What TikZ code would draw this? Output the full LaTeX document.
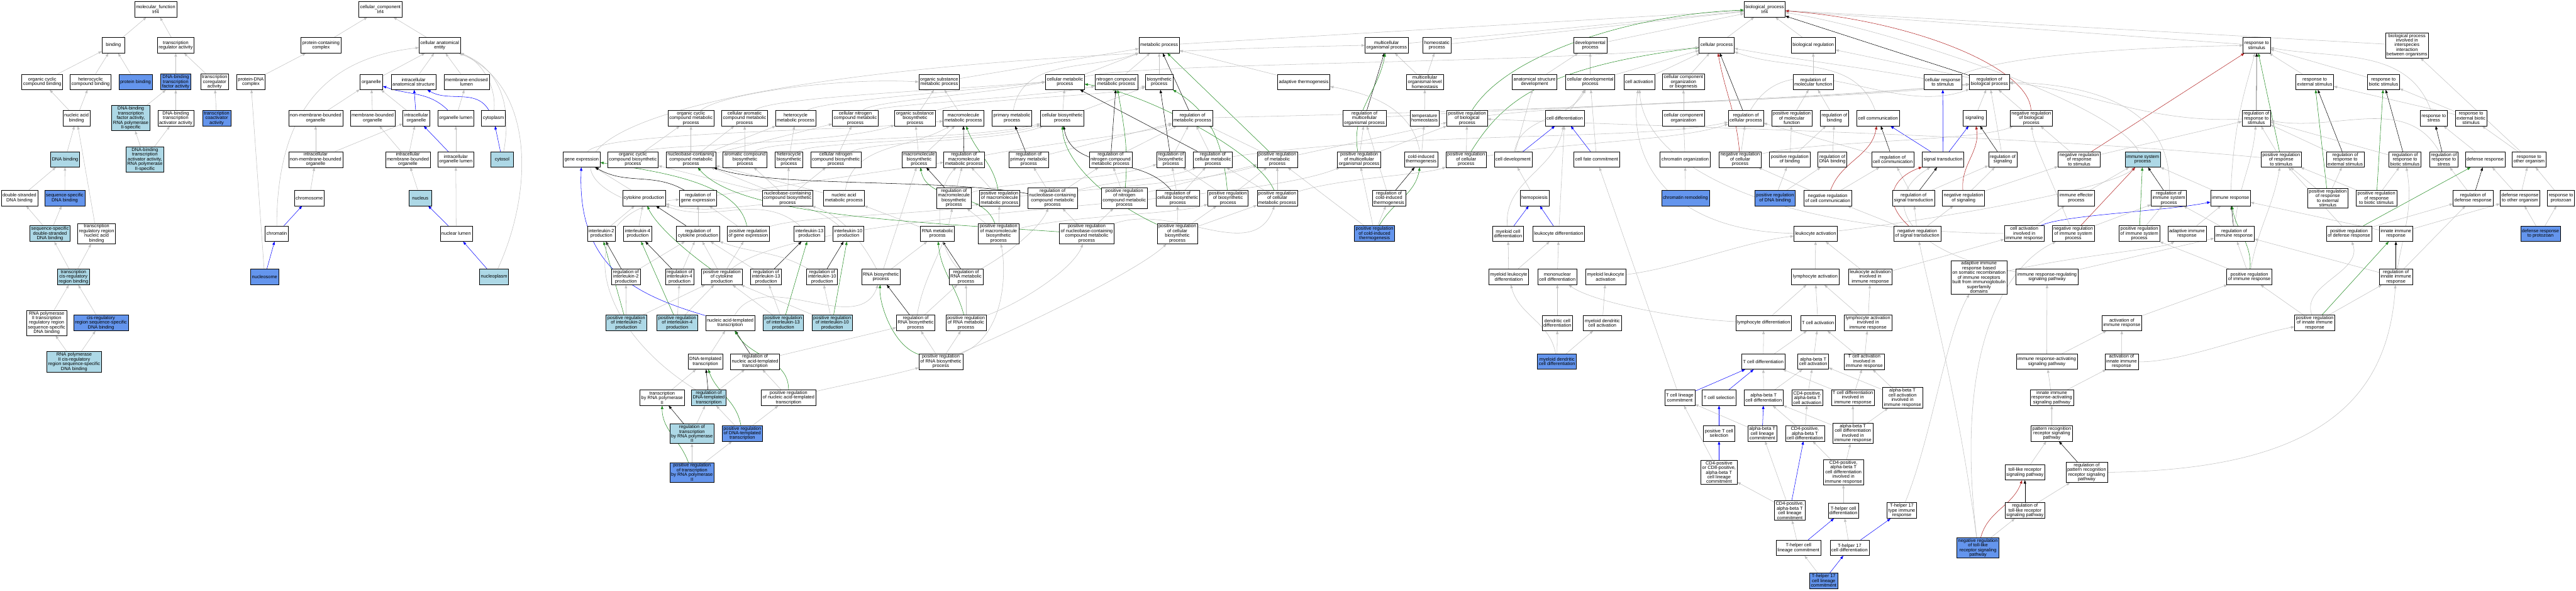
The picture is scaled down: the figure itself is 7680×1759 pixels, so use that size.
\documentclass[tikz,border=0pt]{standalone}
\usepackage{fontspec}
\setmainfont{Liberation Sans}
\usetikzlibrary{arrows.meta}
\pgfdeclarelayer{back}
\pgfdeclarelayer{bg}
\pgfsetlayers{back,bg,main}
\definecolor{lblue}{HTML}{ADD8E6}
\definecolor{cblue}{HTML}{6495ED}
\definecolor{egray}{HTML}{C0C0C0}
\definecolor{fgreen}{HTML}{228B22}
\definecolor{fbrick}{HTML}{B22222}
\newcommand\Ln[3][gr]{\draw[#1] (#2) -- (#3);}
\begin{document}
\begin{tikzpicture}[x=1bp,y=1bp,
 nd/.style={draw=black, line width=1.1bp, fill=white, align=center, font=\fontsize{14}{14}\selectfont, minimum width=68bp, minimum height=46bp, inner xsep=4bp, inner ysep=3bp},
 lb/.style={nd, fill=lblue},
 db/.style={nd, fill=cblue},
 gr/.style={draw=egray, line width=1.0bp, -{Triangle[length=10bp,width=7.5bp]}},
 bk/.style={gr, draw=black},
 bl/.style={gr, draw=blue},
 gn/.style={gr, draw=fgreen},
 rd/.style={gr, draw=fbrick}]
\begin{pgfonlayer}{back}
\fill[white] (0,0) rectangle (7680,-1759);
\end{pgfonlayer}
\useasboundingbox (0,0) rectangle (7680,-1759);
% ---------------- molecular function
\node[nd] (mf) at (464,-28) {molecular\_function\\Irf4};
\node[nd] (bind) at (338,-135) {binding};
\node[nd] (tra) at (524,-135) {transcription\\regulator activity};
\node[nd] (occb) at (126,-244) {organic cyclic\\compound binding};
\node[nd] (hcb) at (270,-244) {heterocyclic\\compound binding};
\node[db] (pb) at (404,-244) {protein binding};
\node[db] (dtfa) at (524,-244) {DNA-binding\\transcription\\factor activity};
\node[nd] (tcoreg) at (640,-244) {transcription\\coregulator\\activity};
\node[nd] (nab) at (228,-352) {nucleic acid\\binding};
\node[lb] (dtfa2) at (390,-352) {DNA-binding\\transcription\\factor activity,\\RNA polymerase\\II-specific};
\node[nd] (dtaa) at (524,-352) {DNA-binding\\transcription\\activator activity};
\node[db] (tcoact) at (646,-352) {transcription\\coactivator\\activity};
\node[lb] (dnab) at (194,-475) {DNA binding};
\node[lb] (dtaa2) at (432,-475) {DNA-binding\\transcription\\activator activity,\\RNA polymerase\\II-specific};
\node[nd] (dsdna) at (58,-590) {double-stranded\\DNA binding};
\node[db] (ssdna) at (193,-590) {sequence-specific\\DNA binding};
\node[lb] (ssds) at (149,-696) {sequence-specific\\double-stranded\\DNA binding};
\node[nd] (trrnab) at (288,-696) {transcription\\regulatory region\\nucleic acid\\binding};
\node[lb] (tcis) at (219,-825) {transcription\\cis-regulatory\\region binding};
\node[nd] (rp2tr) at (139,-962) {RNA polymerase\\II transcription\\regulatory region\\sequence-specific\\DNA binding};
\node[db] (cisr) at (301,-962) {cis-regulatory\\region sequence-specific\\DNA binding};
\node[lb] (rp2cis) at (221,-1078) {RNA polymerase\\II cis-regulatory\\region sequence-specific\\DNA binding};
% ---------------- cellular component
\node[nd] (cc) at (1134,-28) {cellular\_component\\Irf4};
\node[nd] (pcc) at (957,-135) {protein-containing\\complex};
\node[nd] (cae) at (1311,-135) {cellular anatomical\\entity};
\node[nd] (pdna) at (748,-244) {protein-DNA\\complex};
\node[nd] (org) at (1107,-244) {organelle};
\node[nd] (ias) at (1233,-244) {intracellular\\anatomical structure};
\node[nd] (mel) at (1391,-244) {membrane-enclosed\\lumen};
\node[nd] (nmbo) at (941,-352) {non-membrane-bounded\\organelle};
\node[nd] (mbo) at (1111,-352) {membrane-bounded\\organelle};
\node[nd] (io) at (1241,-352) {intracellular\\organelle};
\node[nd] (ol) at (1359,-352) {organelle lumen};
\node[nd] (cyto) at (1471,-352) {cytoplasm};
\node[nd] (inmbo) at (941,-475) {intracellular\\non-membrane-bounded\\organelle};
\node[nd] (imbo) at (1216,-475) {intracellular\\membrane-bounded\\organelle};
\node[nd] (iol) at (1359,-475) {intracellular\\organelle lumen};
\node[lb] (cytosol) at (1497,-475) {cytosol};
\node[nd] (chrom) at (922,-590) {chromosome};
\node[lb] (nuc) at (1253,-590) {nucleus};
\node[nd] (chromatin) at (825,-696) {chromatin};
\node[nd] (nlum) at (1360,-696) {nuclear lumen};
\node[db] (nucleosome) at (789,-825) {nucleosome};
\node[lb] (nucleoplasm) at (1473,-825) {nucleoplasm};
% ---------------- biological process
\node[nd] (bp) at (5261,-28) {biological\_process\\Irf4};
% row 135
\node[nd] (mp) at (3456,-135) {metabolic process};
\node[nd] (mop) at (4134,-135) {multicellular\\organismal process};
\node[nd] (hp) at (4284,-135) {homeostatic\\process};
\node[nd] (dp) at (4741,-135) {developmental\\process};
\node[nd] (cp) at (5118,-135) {cellular process};
\node[nd] (br) at (5406,-135) {biological regulation};
\node[nd] (rs) at (6728,-135) {response to\\stimulus};
\node[nd] (bpi) at (7176,-135) {biological process\\involved in\\interspecies\\interaction\\between organisms};
% row 244
\node[nd] (osmp) at (2800,-244) {organic substance\\metabolic process};
\node[nd] (cmp) at (3175,-244) {cellular metabolic\\process};
\node[nd] (ncmp) at (3328,-244) {nitrogen compound\\metabolic process};
\node[nd] (bsp) at (3456,-244) {biosynthetic\\process};
\node[nd] (at) at (3887,-244) {adaptive thermogenesis};
\node[nd] (mloh) at (4248,-244) {multicellular\\organismal-level\\homeostasis};
\node[nd] (asd) at (4575,-244) {anatomical structure\\development};
\node[nd] (cdp) at (4741,-244) {cellular developmental\\process};
\node[nd] (ca) at (4887,-244) {cell activation};
\node[nd] (ccob) at (5019,-244) {cellular component\\organization\\or biogenesis};
\node[nd] (rmf) at (5406,-244) {regulation of\\molecular function};
\node[nd] (crs) at (5792,-244) {cellular response\\to stimulus};
\node[nd] (rbp) at (5931,-244) {regulation of\\biological process};
\node[nd] (res) at (6901,-244) {response to\\external stimulus};
\node[nd] (rbs) at (7106,-244) {response to\\biotic stimulus};
% row 352
\node[nd] (occmp) at (2060,-352) {organic cyclic\\compound metabolic\\process};
\node[nd] (cacmp) at (2220,-352) {cellular aromatic\\compound metabolic\\process};
\node[nd] (hmp) at (2372,-352) {heterocycle\\metabolic process};
\node[nd] (cncmp) at (2550,-352) {cellular nitrogen\\compound metabolic\\process};
\node[nd] (osbp) at (2728,-352) {organic substance\\biosynthetic\\process};
\node[nd] (mmp) at (2872,-352) {macromolecule\\metabolic process};
\node[nd] (pmp) at (3017,-352) {primary metabolic\\process};
\node[nd] (cbp) at (3167,-352) {cellular biosynthetic\\process};
\node[nd] (rmp) at (3555,-352) {regulation of\\metabolic process};
\node[nd] (rmop) at (4068,-352) {regulation of\\multicellular\\organismal process};
\node[nd] (th) at (4247,-352) {temperature\\homeostasis};
\node[nd] (prbp) at (4374,-352) {positive regulation\\of biological\\process};
\node[nd] (cd) at (4665,-352) {cell differentiation};
\node[nd] (cco) at (5019,-352) {cellular component\\organization};
\node[nd] (rcp) at (5205,-352) {regulation of\\cellular process};
\node[nd] (prmf) at (5342,-352) {positive regulation\\of molecular\\function};
\node[nd] (rb) at (5469,-352) {regulation of\\binding};
\node[nd] (cc2) at (5599,-352) {cell communication};
\node[nd] (sig) at (5887,-352) {signaling};
\node[nd] (nrbp) at (6056,-352) {negative regulation\\of biological\\process};
\node[nd] (rrs) at (6727,-352) {regulation of\\response to\\stimulus};
\node[nd] (rst) at (7256,-352) {response to\\stress};
\node[nd] (rebs) at (7367,-352) {response to\\external biotic\\stimulus};
% row 475
\node[nd] (ge) at (1734,-475) {gene expression};
\node[nd] (occbp) at (1887,-475) {organic cyclic\\compound biosynthetic\\process};
\node[nd] (nccmp) at (2060,-475) {nucleobase-containing\\compound metabolic\\process};
\node[nd] (acbp) at (2221,-475) {aromatic compound\\biosynthetic\\process};
\node[nd] (hbp) at (2352,-475) {heterocycle\\biosynthetic\\process};
\node[nd] (cncbp) at (2492,-475) {cellular nitrogen\\compound biosynthetic\\process};
\node[nd] (mbp) at (2740,-475) {macromolecule\\biosynthetic\\process};
\node[nd] (rmmp) at (2874,-475) {regulation of\\macromolecule\\metabolic process};
\node[nd] (rpmp) at (3067,-475) {regulation of\\primary metabolic\\process};
\node[nd] (rncmp) at (3311,-475) {regulation of\\nitrogen compound\\metabolic process};
\node[nd] (rbsp) at (3491,-475) {regulation of\\biosynthetic\\process};
\node[nd] (rcmp) at (3616,-475) {regulation of\\cellular metabolic\\process};
\node[nd] (prmp) at (3808,-475) {positive regulation\\of metabolic\\process};
\node[nd] (prmop) at (4052,-475) {positive regulation\\of multicellular\\organismal process};
\node[nd] (cit) at (4237,-475) {cold-induced\\thermogenesis};
\node[nd] (prcp) at (4371,-475) {positive regulation\\of cellular\\process};
\node[nd] (cdev) at (4511,-475) {cell development};
\node[nd] (cfc) at (4760,-475) {cell fate commitment};
\node[nd] (co) at (5024,-475) {chromatin organization};
\node[nd] (nrcp) at (5188,-475) {negative regulation\\of cellular\\process};
\node[nd] (prb) at (5336,-475) {positive regulation\\of binding};
\node[nd] (rdb) at (5463,-475) {regulation of\\DNA binding};
\node[nd] (rcc) at (5643,-475) {regulation of\\cell communication};
\node[nd] (st) at (5793,-475) {signal transduction};
\node[nd] (rsig) at (5971,-475) {regulation of\\signaling};
\node[nd] (nrrs) at (6199,-475) {negative regulation\\of response\\to stimulus};
\node[lb] (isp) at (6388,-475) {immune system\\process};
\node[nd] (prrs) at (6801,-475) {positive regulation\\of response\\to stimulus};
\node[nd] (rres) at (6992,-475) {regulation of\\response to\\external stimulus};
\node[nd] (rrbs) at (7170,-475) {regulation of\\response to\\biotic stimulus};
\node[nd] (rrst) at (7286,-475) {regulation of\\response to\\stress};
\node[nd] (dr) at (7409,-475) {defense response};
\node[nd] (roo) at (7540,-475) {response to\\other organism};
% row 590
\node[nd] (cyp) at (1920,-590) {cytokine production};
\node[nd] (rge) at (2081,-590) {regulation of\\gene expression};
\node[nd] (nccbp) at (2348,-590) {nucleobase-containing\\compound biosynthetic\\process};
\node[nd] (namp) at (2516,-590) {nucleic acid\\metabolic process};
\node[nd] (rmbp) at (2844,-590) {regulation of\\macromolecule\\biosynthetic\\process};
\node[nd] (prmmp) at (2980,-590) {positive regulation\\of macromolecule\\metabolic process};
\node[nd] (rnccmp) at (3138,-590) {regulation of\\nucleobase-containing\\compound metabolic\\process};
\node[nd] (prncmp) at (3352,-590) {positive regulation\\of nitrogen\\compound metabolic\\process};
\node[nd] (rcbp) at (3511,-590) {regulation of\\cellular biosynthetic\\process};
\node[nd] (prbsp) at (3661,-590) {positive regulation\\of biosynthetic\\process};
\node[nd] (prcmp) at (3808,-590) {positive regulation\\of cellular\\metabolic process};
\node[nd] (rcit) at (4141,-590) {regulation of\\cold-induced\\thermogenesis};
\node[nd] (hemo) at (4575,-590) {hemopoiesis};
\node[db] (crem) at (5025,-590) {chromatin remodeling};
\node[db] (prdb) at (5292,-590) {positive regulation\\of DNA binding};
\node[nd] (nrcc) at (5449,-590) {negative regulation\\of cell communication};
\node[nd] (rst2) at (5705,-590) {regulation of\\signal transduction};
\node[nd] (nrsig) at (5854,-590) {negative regulation\\of signaling};
\node[nd] (iep) at (6190,-590) {immune effector\\process};
\node[nd] (risp) at (6466,-590) {regulation of\\immune system\\process};
\node[nd] (ir) at (6650,-590) {immune response};
\node[nd] (prres) at (6940,-590) {positive regulation\\of response\\to external\\stimulus};
\node[nd] (prrbs) at (7085,-590) {positive regulation\\of response\\to biotic stimulus};
\node[nd] (rdr) at (7373,-590) {regulation of\\defense response};
\node[nd] (droo) at (7513,-590) {defense response\\to other organism};
\node[nd] (rp) at (7635,-590) {response to\\protozoan};
% row 696
\node[nd] (il2) at (1793,-696) {interleukin-2\\production};
\node[nd] (il4) at (1901,-696) {interleukin-4\\production};
\node[nd] (rcyp) at (2081,-696) {regulation of\\cytokine production};
\node[nd] (prge) at (2231,-696) {positive regulation\\of gene expression};
\node[nd] (il13) at (2413,-696) {interleukin-13\\production};
\node[nd] (il10) at (2529,-696) {interleukin-10\\production};
\node[nd] (rnamp) at (2795,-696) {RNA metabolic\\process};
\node[nd] (prmbp) at (2977,-696) {positive regulation\\of macromolecule\\biosynthetic\\process};
\node[nd] (prnccmp) at (3240,-696) {positive regulation\\of nucleobase-containing\\compound metabolic\\process};
\node[nd] (prcbp) at (3510,-696) {positive regulation\\of cellular\\biosynthetic\\process};
\node[db] (prcit) at (4098,-696) {positive regulation\\of cold-induced\\thermogenesis};
\node[nd] (mcd) at (4496,-696) {myeloid cell\\differentiation};
\node[nd] (ld) at (4647,-696) {leukocyte differentiation};
\node[nd] (la) at (5413,-696) {leukocyte activation};
\node[nd] (nrst) at (5716,-696) {negative regulation\\of signal transduction};
\node[nd] (caiir) at (6035,-696) {cell activation\\involved in\\immune response};
\node[nd] (nrisp) at (6181,-696) {negative regulation\\of immune system\\process};
\node[nd] (prisp) at (6378,-696) {positive regulation\\of immune system\\process};
\node[nd] (air) at (6520,-696) {adaptive immune\\response};
\node[nd] (rir) at (6661,-696) {regulation of\\immune response};
\node[nd] (prdr) at (7003,-696) {positive regulation\\of defense response};
\node[nd] (iir) at (7143,-696) {innate immune\\response};
\node[db] (drp) at (7574,-696) {defense response\\to protozoan};
% row 825
\node[nd] (ril2) at (1866,-825) {regulation of\\interleukin-2\\production};
\node[nd] (ril4) at (2026,-825) {regulation of\\interleukin-4\\production};
\node[nd] (prcyp) at (2152,-825) {positive regulation\\of cytokine\\production};
\node[nd] (ril13) at (2284,-825) {regulation of\\interleukin-13\\production};
\node[nd] (ril10) at (2451,-825) {regulation of\\interleukin-10\\production};
\node[nd] (rnabp) at (2626,-825) {RNA biosynthetic\\process};
\node[nd] (rrnamp) at (2880,-825) {regulation of\\RNA metabolic\\process};
\node[nd] (mld) at (4498,-825) {myeloid leukocyte\\differentiation};
\node[nd] (mncd) at (4643,-825) {mononuclear\\cell differentiation};
\node[nd] (mla) at (4787,-825) {myeloid leukocyte\\activation};
\node[nd] (lya) at (5412,-825) {lymphocyte activation};
\node[nd] (laiir) at (5576,-825) {leukocyte activation\\involved in\\immune response};
\node[nd] (airsr) at (5900,-826) {adaptive immune\\response based\\on somatic recombination\\of immune receptors\\built from immunoglobulin\\superfamily\\domains};
\node[nd] (irrsp) at (6103,-825) {immune response-regulating\\signaling pathway};
\node[nd] (prir) at (6706,-825) {positive regulation\\of immune response};
\node[nd] (riir) at (7143,-825) {regulation of\\innate immune\\response};
% row 962
\node[lb] (pril2) at (1867,-962) {positive regulation\\of interleukin-2\\production};
\node[lb] (pril4) at (2019,-962) {positive regulation\\of interleukin-4\\production};
\node[nd] (natt) at (2177,-962) {nucleic acid-templated\\transcription};
\node[lb] (pril13) at (2335,-962) {positive regulation\\of interleukin-13\\production};
\node[lb] (pril10) at (2481,-962) {positive regulation\\of interleukin-10\\production};
\node[nd] (rrnabp) at (2730,-962) {regulation of\\RNA biosynthetic\\process};
\node[nd] (prrnamp) at (2880,-962) {positive regulation\\of RNA metabolic\\process};
\node[nd] (dcd) at (4643,-962) {dendritic cell\\differentiation};
\node[nd] (mdca) at (4777,-962) {myeloid dendritic\\cell activation};
\node[nd] (lyd) at (5258,-962) {lymphocyte differentiation};
\node[nd] (tca) at (5420,-962) {T cell activation};
\node[nd] (lyaiir) at (5569,-962) {lymphocyte activation\\involved in\\immune response};
\node[nd] (aoir) at (6326,-962) {activation of\\immune response};
\node[nd] (priir) at (6901,-962) {positive regulation\\of innate immune\\response};
% row 1077
\node[nd] (dtt) at (2103,-1077) {DNA-templated\\transcription};
\node[nd] (rnatt) at (2251,-1077) {regulation of\\nucleic acid-templated\\transcription};
\node[nd] (prrnabp) at (2805,-1077) {positive regulation\\of RNA biosynthetic\\process};
\node[db] (mdcd) at (4642,-1077) {myeloid dendritic\\cell differentiation};
\node[nd] (tcd) at (5257,-1077) {T cell differentiation};
\node[nd] (abtca) at (5406,-1077) {alpha-beta T\\cell activation};
\node[nd] (tcaiir) at (5558,-1077) {T cell activation\\involved in\\immune response};
\node[nd] (iraspa) at (6102,-1077) {immune response-activating\\signaling pathway};
\node[nd] (aoiir) at (6325,-1077) {activation of\\innate immune\\response};
% row 1185
\node[nd] (trp2) at (1974,-1185) {transcription\\by RNA polymerase\\II};
\node[lb] (rdtt) at (2113,-1185) {regulation of\\DNA-templated\\transcription};
\node[nd] (prnatt) at (2351,-1185) {positive regulation\\of nucleic acid-templated\\transcription};
\node[nd] (tclc) at (5008,-1185) {T cell lineage\\commitment};
\node[nd] (tcs) at (5125,-1185) {T cell selection};
\node[nd] (abtcd) at (5258,-1185) {alpha-beta T\\cell differentiation};
\node[nd] (cd4a) at (5388,-1185) {CD4-positive,\\alpha-beta T\\cell activation};
\node[nd] (tcdiir) at (5524,-1185) {T cell differentiation\\involved in\\immune response};
\node[nd] (abtcaiir) at (5672,-1185) {alpha-beta T\\cell activation\\involved in\\immune response};
\node[nd] (iirasp) at (6117,-1185) {innate immune\\response-activating\\signaling pathway};
% row 1291
\node[lb] (rtrp2) at (2063,-1292) {regulation of\\transcription\\by RNA polymerase\\II};
\node[db] (prdtt) at (2213,-1291) {positive regulation\\of DNA-templated\\transcription};
\node[nd] (ptcs) at (5125,-1291) {positive T cell\\selection};
\node[nd] (abtclc) at (5254,-1291) {alpha-beta T\\cell lineage\\commitment};
\node[nd] (cd4d) at (5381,-1291) {CD4-positive,\\alpha-beta T\\cell differentiation};
\node[nd] (abtcdiir) at (5524,-1291) {alpha-beta T\\cell differentiation\\involved in\\immune response};
\node[nd] (prrsp) at (6117,-1291) {pattern recognition\\receptor signaling\\pathway};
% row 1407
\node[db] (prtrp2) at (2063,-1407) {positive regulation\\of transcription\\by RNA polymerase\\II};
\node[nd] (cd48) at (5125,-1407) {CD4-positive\\or CD8-positive,\\alpha-beta T\\cell lineage\\commitment};
\node[nd] (cd4diir) at (5496,-1407) {CD4-positive,\\alpha-beta T\\cell differentiation\\involved in\\immune response};
\node[nd] (tlr) at (6037,-1407) {toll-like receptor\\signaling pathway};
\node[nd] (rprrsp) at (6221,-1407) {regulation of\\pattern recognition\\receptor signaling\\pathway};
% row 1521
\node[nd] (cd4lc) at (5336,-1521) {CD4-positive,\\alpha-beta T\\cell lineage\\commitment};
\node[nd] (thd) at (5496,-1521) {T-helper cell\\differentiation};
\node[nd] (th17ir) at (5670,-1521) {T-helper 17\\type immune\\response};
\node[nd] (rtlr) at (6037,-1521) {regulation of\\toll-like receptor\\signaling pathway};
% row 1632
\node[nd] (thlc) at (5362,-1632) {T-helper cell\\lineage commitment};
\node[nd] (th17d) at (5514,-1632) {T-helper 17\\cell differentiation};
\node[db] (nrtlr) at (5897,-1632) {negative regulation\\of toll-like\\receptor signaling\\pathway};
% row 1730
\node[db] (th17lc) at (5437,-1730) {T-helper 17\\cell lineage\\commitment};

\begin{pgfonlayer}{bg}
% ---- MF edges
\Ln{bind}{mf} \Ln{tra}{mf}
\Ln{occb}{bind} \Ln{hcb}{bind} \Ln{pb}{bind}
\Ln{dtfa}{tra} \Ln{tcoreg}{tra}
\Ln{nab}{occb} \Ln{nab}{hcb}
\Ln{dtfa2}{dtfa} \Ln{dtaa}{dtfa} \Ln{tcoact}{tcoreg}
\Ln{dtaa2}{dtfa2} \Ln{dtaa2}{dtaa}
\Ln{dnab}{nab} \Ln{trrnab}{nab}
\Ln{dsdna}{dnab} \Ln{ssdna}{dnab}
\Ln{ssds}{dsdna} \Ln{ssds}{ssdna}
\Ln{tcis}{ssds} \Ln{tcis}{trrnab}
\Ln{rp2tr}{tcis} \Ln{cisr}{tcis}
\Ln{rp2cis}{rp2tr} \Ln{rp2cis}{cisr}
% ---- CC edges
\Ln{pcc}{cc} \Ln{cae}{cc}
\Ln{pdna}{pcc}
\Ln{org}{cae} \Ln{ias}{cae} \Ln{mel}{cae}
\draw[gr] (chromatin) .. controls (826,-300) and (1000,-170) .. (cae);
\draw[gr] (cyto) .. controls (1480,-250) and (1430,-180) .. (cae);
\draw[gr] (cytosol) .. controls (1530,-300) and (1480,-200) .. (cae);
\draw[gr] (nucleoplasm) .. controls (1595,-560) and (1590,-250) .. (cae);
\Ln{nmbo}{org} \Ln{mbo}{org} \Ln{io}{org}
\Ln[bl]{io}{ias}
\draw[bl] (ol) to[out=135,in=-20] (org);
\draw[bl] (cyto) to[out=120,in=-30] (ias);
\Ln{ol}{mel} \Ln{iol}{ol} \Ln{nlum}{iol}
\Ln[bl]{nucleoplasm}{nlum} \Ln[bl]{cytosol}{cyto}
\Ln{inmbo}{nmbo} \Ln{inmbo}{io}
\Ln{imbo}{mbo} \Ln{imbo}{io}
\Ln[bl]{iol}{io}
\Ln{chrom}{inmbo} \Ln{nuc}{imbo}
\Ln[bl]{nlum}{nuc} \Ln[bl]{chromatin}{chrom} \Ln[bl]{nucleosome}{chromatin}
\Ln{nucleosome}{pdna}
% ---- BP top
\Ln{mp}{bp} \Ln{mop}{bp} \Ln{hp}{bp} \Ln{dp}{bp} \Ln{cp}{bp} \Ln{br}{bp} \Ln{rs}{bp} \Ln{bpi}{bp}
\draw[gn] (prbp) .. controls (4500,-150) and (4900,-40) .. (bp);
\Ln[bk]{rbp}{bp}
\draw[rd] (nrbp) .. controls (6050,-200) and (5700,-60) .. (bp);
\draw[gr] (isp) .. controls (6300,-300) and (5600,-80) .. (bp);
\Ln{osmp}{mp} \Ln{cmp}{mp} \Ln{ncmp}{mp} \Ln{bsp}{mp}
\Ln[bk]{rmp}{mp}
\Ln[gn]{prmp}{mp}
\Ln{at}{mp}
\draw[gr] (pmp) to[out=80,in=-160] (mp);
\Ln{mloh}{mop}
\Ln[bk]{rmop}{mop}
\draw[gn] (prmop) to[out=100,in=-100] (mop);
\draw[gr] (cyp.west) .. controls (1550,-450) and (1900,-180) .. (mop.west);
\Ln{mloh}{hp}
\Ln{asd}{dp} \Ln{cdp}{dp}
\Ln{cdp}{cp} \Ln{ca}{cp} \Ln{ccob}{cp}
\Ln[bk]{rcp}{cp}
\draw[rd] (nrcp) to[out=95,in=-80] (cp);
\draw[gn] (prcp) .. controls (4480,-300) and (4600,-200) .. (cp);
\draw[gr] (cc2) to[out=110,in=-20] (cp);
\draw[gr] (crs) to[out=170,in=-10] (cp);
\draw[gr] (cmp) .. controls (3400,-185) and (4600,-190) .. (cp);
\Ln{rmf}{br} \Ln{rbp}{br}
\Ln{res}{rs} \Ln{rbs}{rs}
\Ln[bk]{rrs}{rs}
\draw[gr] (rst) to[out=110,in=-10] (rs);
\Ln[gn]{prrs}{rs}
\Ln[rd]{nrrs}{rs}
\draw[gr] (ir) .. controls (6660,-350) and (6700,-250) .. (rs);
\draw[gr] (crs) .. controls (6000,-160) and (6400,-140) .. (rs);
\Ln{roo}{bpi}
% ---- rows 352 -> 244
\Ln{osbp}{osmp}
\draw[gr] (osbp) .. controls (2900,-290) and (3300,-290) .. (bsp);
\Ln{mmp}{osmp} \Ln{cbp}{cmp} \Ln{cbp}{bsp}
\draw[gr] (occmp) .. controls (2150,-280) and (2500,-230) .. (osmp.west);
\draw[gr] (cacmp) .. controls (2300,-290) and (2800,-270) .. (cmp.west);
\draw[gr] (hmp) .. controls (2450,-300) and (2900,-270) .. (cmp.west);
\draw[gr] (cncmp) .. controls (2600,-300) and (2950,-280) .. (cmp.west);
\draw[gr] (cncmp) .. controls (2650,-310) and (3100,-290) .. (ncmp);
\Ln{th}{mloh}
\draw[gr] (prbp) .. controls (4800,-300) and (5500,-300) .. (rbp);
\Ln{cd}{cdp} \Ln{cco}{ccob}
\draw[gr] (rcp) to[out=60,in=-160] (rbp);
\Ln{prmf}{rmf} \Ln{rb}{rmf}
\Ln{sig}{rbp} \Ln{nrbp}{rbp}
\draw[gr] (rrs) .. controls (6400,-370) and (6200,-260) .. (rbp);
\Ln{rebs}{res} \Ln{rebs}{rbs}
\draw[gr] (rmp) .. controls (4500,-330) and (5400,-300) .. (rbp);
\draw[gr] (rmop) .. controls (4600,-320) and (5500,-290) .. (rbp);
% ---- row 475 -> above
\draw[gr] (ge) .. controls (1800,-390) and (2600,-390) .. (mmp);
\draw[gr] (occbp) .. controls (1950,-430) and (2500,-430) .. (osbp);
\Ln{occbp}{occmp}
\Ln{nccmp}{occmp} \Ln{nccmp}{cacmp} \Ln{nccmp}{hmp} \Ln{nccmp}{cncmp}
\Ln{acbp}{cacmp}
\draw[gr] (acbp) .. controls (2300,-410) and (2900,-420) .. (cbp);
\Ln{hbp}{hmp}
\draw[gr] (hbp) .. controls (2420,-420) and (2950,-420) .. (cbp);
\Ln{cncbp}{cncmp}
\draw[gr] (cncbp) .. controls (2600,-420) and (3000,-420) .. (cbp);
\Ln{mbp}{mmp} \Ln{mbp}{osbp}
\Ln[bk]{rmmp}{mmp}
\draw[gr] (rmmp) .. controls (3100,-430) and (3400,-400) .. (rmp);
\Ln[bk]{rpmp}{pmp} \Ln{rpmp}{rmp}
\Ln[bk]{rncmp}{ncmp} \Ln{rncmp}{rmp}
\Ln[bk]{rbsp}{bsp} \Ln{rbsp}{rmp}
\Ln[bk]{rcmp}{cmp} \Ln{rcmp}{rmp}
\draw[gr] (rcmp) .. controls (4200,-390) and (4900,-420) .. (rcp);
\Ln{prmp}{rmp} \Ln{prmp}{prbp}
\Ln{prmop}{rmop} \Ln{prmop}{prbp}
\Ln{cit}{th}
\draw[gr] (cit) to[out=100,in=-10] (at);
\Ln{prcp}{prbp}
\draw[gr] (prcp) .. controls (4700,-420) and (5000,-420) .. (rcp);
\Ln{cdev}{asd}
\draw[gr] (cdev) to[out=80,in=-120] (cdp);
\Ln[bl]{cdev}{cd} \Ln[bl]{cfc}{cd}
\Ln{cfc}{cdp}
\Ln{co}{cco}
\Ln{nrcp}{rcp}
\draw[gr] (nrcp) .. controls (5400,-420) and (5900,-420) .. (nrbp);
\Ln{prb}{rb} \Ln{prb}{prmf}
\Ln{rdb}{rb}
\Ln[bk]{rcc}{cc2} \Ln{rcc}{rcp}
\Ln[bl]{st}{crs} \Ln[bl]{st}{sig} \Ln[bl]{st}{cc2}
\Ln[bk]{rsig}{sig} \Ln{rsig}{rbp}
\Ln{nrrs}{nrbp} \Ln{nrrs}{rrs}
\Ln{prrs}{rrs}
\draw[gr] (prrs) .. controls (6000,-400) and (5000,-380) .. (prbp);
\Ln[bk]{rres}{res} \Ln{rres}{rrs}
\Ln[bk]{rrbs}{rbs} \Ln{rrbs}{rrs}
\Ln[bk]{rrst}{rst}
\draw[gr] (rrst) to[out=120,in=-10] (rrs);
\Ln{dr}{rst}
\Ln{roo}{rebs}
% ---- row 590 -> above
\Ln{cyp}{ge}
\draw[bk] (rge) to[out=150,in=-30] (ge);
\Ln{rge}{rmmp}
\Ln{nccbp}{occbp} \Ln{nccbp}{nccmp} \Ln{nccbp}{acbp} \Ln{nccbp}{hbp} \Ln{nccbp}{cncbp}
\Ln{namp}{nccmp}
\draw[gr] (namp) to[out=80,in=-150] (mmp);
\Ln[bk]{rmbp}{mbp} \Ln{rmbp}{rmmp}
\draw[gr] (rmbp) .. controls (3000,-540) and (3300,-540) .. (rbsp);
\draw[gn] (prmmp) to[out=100,in=-70] (mmp);
\Ln{prmmp}{rmmp}
\draw[gr] (prmmp) .. controls (3300,-560) and (3600,-540) .. (prmp);
\draw[bk] (rnccmp) .. controls (2800,-530) and (2300,-560) .. (nccmp);
\Ln{rnccmp}{rpmp} \Ln{rnccmp}{rncmp}
\draw[gr] (rnccmp) .. controls (3300,-540) and (3500,-530) .. (rcmp);
\draw[gn] (prncmp) to[out=85,in=-80] (ncmp);
\Ln{prncmp}{rncmp} \Ln{prncmp}{prmp}
\draw[bk] (rcbp) to[out=130,in=-80] (cbp);
\Ln{rcbp}{rbsp} \Ln{rcbp}{rcmp}
\draw[gn] (prbsp) to[out=95,in=-30] (bsp);
\Ln{prbsp}{rbsp} \Ln{prbsp}{prmp}
\Ln{prcmp}{prmp} \Ln{prcmp}{rcmp}
\draw[gn] (prcmp) .. controls (3750,-450) and (3400,-270) .. (cmp);
\draw[gr] (prcmp) .. controls (4000,-530) and (4250,-520) .. (prcp);
\Ln[bk]{rcit}{cit} \Ln{rcit}{rmop}
\Ln{hemo}{cdev}
\Ln{crem}{co}
\Ln{prdb}{prb} \Ln{prdb}{rdb}
\draw[rd] (nrcc) to[out=70,in=-100] (cc2);
\Ln{nrcc}{rcc} \Ln{nrcc}{nrcp}
\Ln[bk]{rst2}{st} \Ln{rst2}{rcc} \Ln{rst2}{rsig}
\draw[rd] (nrsig) to[out=95,in=-80] (sig);
\Ln{nrsig}{rsig} \Ln{nrsig}{nrrs}
\Ln{iep}{isp}
\Ln[bk]{risp}{isp}
\draw[gr] (risp) .. controls (6480,-300) and (6200,-250) .. (rbp);
\Ln{ir}{isp}
\Ln[gn]{prres}{res} \Ln{prres}{rres} \Ln{prres}{prrs}
\Ln[gn]{prrbs}{rbs} \Ln{prrbs}{rrbs} \Ln{prrbs}{prrs}
\Ln[bk]{rdr}{dr} \Ln{rdr}{rrst}
\Ln{droo}{dr} \Ln{droo}{roo}
\Ln{rp}{roo}
% ---- row 696 -> above
\Ln{il2}{cyp} \Ln{il4}{cyp}
\draw[gr] (il13) to[out=140,in=-20] (cyp);
\draw[gr] (il10) to[out=140,in=-15] (cyp);
\Ln[bk]{rcyp}{cyp} \Ln{rcyp}{rge}
\Ln{prge}{rge}
\draw[gn] (prge) .. controls (2200,-540) and (1950,-510) .. (ge);
\draw[gr] (prge) .. controls (2400,-640) and (2800,-640) .. (prmmp);
\Ln{rnamp}{namp}
\draw[gn] (prmbp) to[out=110,in=-80] (mbp);
\Ln{prmbp}{rmbp} \Ln{prmbp}{prmmp}
\draw[gr] (prmbp) .. controls (3200,-640) and (3500,-640) .. (prbsp);
\draw[gn] (prnccmp) .. controls (2700,-660) and (2200,-640) .. (nccmp);
\Ln{prnccmp}{rnccmp} \Ln{prnccmp}{prncmp}
\draw[gr] (prnccmp) to[out=20,in=-110] (prcmp);
\draw[gn] (prcbp) .. controls (3300,-600) and (3170,-480) .. (cbp);
\Ln{prcbp}{rcbp} \Ln{prcbp}{prbsp} \Ln{prcbp}{prcmp}
\draw[gn] (prcit) to[out=60,in=-100] (cit);
\Ln{prcit}{rcit} \Ln{prcit}{prmop} \Ln{prcit}{prmp}
\Ln[bl]{mcd}{hemo}
\draw[gr] (mcd) to[out=95,in=-100] (cd);
\Ln[bl]{ld}{hemo} \Ln{ld}{cd}
\draw[gr] (la) .. controls (5000,-690) and (4850,-500) .. (ca);
\draw[gr] (la) .. controls (5800,-650) and (6300,-560) .. (isp);
\Ln{nrst}{rst2}
\draw[rd] (nrst) .. controls (5610,-600) and (5640,-530) .. (st);
\Ln{nrst}{nrsig} \Ln{nrst}{nrcc}
\draw[gr] (caiir) .. controls (5300,-690) and (4900,-500) .. (ca);
\Ln{caiir}{iep}
\draw[bl] (caiir) .. controls (6150,-640) and (6450,-630) .. (ir);
\Ln[rd]{nrisp}{isp} \Ln{nrisp}{risp}
\draw[gr] (nrisp) .. controls (6100,-500) and (6060,-420) .. (nrbp);
\Ln[gn]{prisp}{isp} \Ln{prisp}{risp}
\Ln{air}{ir}
\Ln[bk]{rir}{ir} \Ln{rir}{risp}
\draw[gr] (rir) to[out=85,in=-95] (rrs);
\Ln[gn]{prdr}{dr} \Ln{prdr}{rdr} \Ln{prdr}{prrs}
\Ln{iir}{ir} \Ln{iir}{droo}
\Ln{drp}{droo} \Ln{drp}{rp}
% ---- row 825 -> above
\Ln[bk]{ril2}{il2} \Ln{ril2}{rcyp}
\Ln[bk]{ril4}{il4} \Ln{ril4}{rcyp}
\draw[gn] (prcyp) .. controls (2020,-730) and (1950,-660) .. (cyp);
\Ln{prcyp}{rcyp} \Ln{prcyp}{prge}
\draw[gr] (prcyp) .. controls (2400,-620) and (3700,-620) .. (prmop);
\Ln[bk]{ril13}{il13} \Ln{ril13}{rcyp}
\Ln[bk]{ril10}{il10}
\draw[gr] (ril10) to[out=150,in=-20] (rcyp);
\Ln{rnabp}{rnamp} \Ln{rnabp}{mbp}
\draw[gr] (rnabp) .. controls (2560,-700) and (2500,-640) .. (nccbp);
\Ln[bk]{rrnamp}{rnamp}
\draw[gr] (rrnamp) .. controls (3000,-760) and (3100,-680) .. (rnccmp);
\draw[gr] (rrnamp) .. controls (2780,-720) and (2790,-560) .. (rmmp);
\Ln{mld}{mcd} \Ln{mld}{ld}
\Ln{mncd}{ld}
\draw[gr] (mla) .. controls (5000,-800) and (5200,-720) .. (la);
\Ln{lya}{la}
\Ln{laiir}{la} \Ln{laiir}{caiir}
\draw[gr] (airsr) .. controls (6200,-760) and (6450,-740) .. (air);
\Ln{irrsp}{rir}
\draw[gr] (irrsp) .. controls (5700,-760) and (5590,-600) .. (st);
\draw[gn] (prir) to[out=85,in=-80] (ir);
\Ln{prir}{rir} \Ln{prir}{prisp}
\draw[gr] (prir) to[out=80,in=-100] (prrs);
\Ln[bk]{riir}{iir} \Ln{riir}{rir} \Ln{riir}{rdr}
\draw[gr] (riir) to[out=80,in=-80] (rrbs);
% ---- row 962 -> above
\Ln[gn]{pril2}{il2} \Ln{pril2}{ril2} \Ln{pril2}{prcyp}
\Ln[gn]{pril4}{il4} \Ln{pril4}{ril4} \Ln{pril4}{prcyp}
\draw[bl] (natt) .. controls (1900,-880) and (1720,-800) .. (ge);
\draw[gr] (natt) to[out=60,in=-110] (rnabp);
\Ln[gn]{pril13}{il13} \Ln{pril13}{ril13} \Ln{pril13}{prcyp}
\Ln[gn]{pril10}{il10} \Ln{pril10}{ril10} \Ln{pril10}{prcyp}
\Ln[bk]{rrnabp}{rnabp} \Ln{rrnabp}{rrnamp}
\draw[gr] (rrnabp) to[out=80,in=-100] (rmbp);
\draw[gn] (prrnamp) to[out=105,in=-85] (rnamp);
\Ln{prrnamp}{rrnamp}
\draw[gr] (prrnamp) .. controls (3050,-900) and (3200,-800) .. (prnccmp);
\Ln{dcd}{mncd} \Ln{mdca}{mla}
\Ln{lyd}{lya}
\draw[gr] (lyd) .. controls (5000,-950) and (4750,-900) .. (mncd);
\Ln{tca}{lya}
\Ln{lyaiir}{lya} \Ln{lyaiir}{laiir}
\Ln{aoir}{prir}
\Ln{priir}{riir} \Ln[gn]{priir}{iir} \Ln{priir}{prir}
\draw[gr] (priir) to[out=110,in=-70] (prdr);
% ---- row 1077 -> above
\Ln{dtt}{natt} \Ln[bk]{rnatt}{natt} \Ln{rnatt}{rrnabp}
\Ln{prrnabp}{rrnabp} \Ln{prrnabp}{prrnamp}
\draw[gn] (prrnabp) .. controls (2660,-1030) and (2620,-900) .. (rnabp);
\draw[gr] (prrnabp) .. controls (3100,-950) and (3400,-800) .. (prcbp);
\draw[gr] (prrnabp) .. controls (3000,-1000) and (3000,-800) .. (prmbp);
\Ln{mdcd}{dcd} \Ln{mdcd}{mdca}
\draw[gr] (mdcd) to[out=100,in=-75] (mld);
\Ln{tcd}{lyd} \Ln{tcd}{tca}
\Ln{abtca}{tca}
\Ln{tcaiir}{tca} \Ln{tcaiir}{lyaiir}
\Ln{iraspa}{irrsp} \Ln{iraspa}{aoir}
\Ln{aoiir}{aoir}
\draw[gr] (aoiir) .. controls (6500,-1080) and (6700,-1000) .. (priir);
% ---- row 1185 -> above
\Ln{trp2}{dtt} \Ln[bk]{rdtt}{dtt} \Ln{rdtt}{rnatt}
\draw[gr] (rdtt) .. controls (1750,-960) and (1700,-620) .. (rge);
\draw[gn] (prnatt) to[out=90,in=-60] (natt);
\Ln{prnatt}{rnatt}
\draw[gr] (prnatt) .. controls (2500,-1150) and (2650,-1120) .. (prrnabp);
\Ln[bl]{tclc}{tcd} \Ln{tclc}{cfc}
\Ln[bl]{tcs}{tcd}
\Ln{abtcd}{tcd} \Ln{abtcd}{abtca}
\Ln{cd4a}{abtca}
\Ln{tcdiir}{tcd} \Ln{tcdiir}{tcaiir}
\Ln{abtcaiir}{abtca} \Ln{abtcaiir}{tcaiir}
\Ln{iirasp}{iraspa} \Ln{iirasp}{aoiir}
% ---- row 1291 -> above
\Ln[bk]{rtrp2}{trp2} \Ln{rtrp2}{rdtt}
\draw[gn] (prdtt) to[out=100,in=-70] (dtt);
\Ln{prdtt}{rdtt} \Ln{prdtt}{prnatt}
\Ln[bl]{ptcs}{tcs}
\Ln[bl]{abtclc}{abtcd} \Ln{abtclc}{tclc}
\Ln{cd4d}{abtcd} \Ln{cd4d}{cd4a}
\Ln{abtcdiir}{abtcd} \Ln{abtcdiir}{tcdiir} \Ln{abtcdiir}{abtcaiir}
\Ln{prrsp}{iirasp}
% ---- row 1407 -> above
\draw[gn] (prtrp2) to[out=110,in=-90] (trp2);
\Ln{prtrp2}{rtrp2} \Ln{prtrp2}{prdtt}
\Ln{cd48}{tclc} \Ln[bl]{cd48}{ptcs}
\Ln{cd4diir}{cd4d} \Ln{cd4diir}{abtcdiir}
\Ln{tlr}{prrsp}
\Ln[bk]{rprrsp}{prrsp}
\draw[gr] (rprrsp.east) .. controls (6900,-1400) and (7120,-1200) .. (riir);
% ---- row 1521 -> above
\Ln[bl]{cd4lc}{cd4d} \Ln{cd4lc}{abtclc} \Ln{cd4lc}{cd48}
\Ln{thd}{cd4diir}
\draw[gr] (th17ir) .. controls (5760,-1300) and (5800,-1000) .. (airsr);
\Ln[bk]{rtlr}{tlr} \Ln{rtlr}{rprrsp}
% ---- row 1632 -> above
\Ln{thlc}{cd4lc} \Ln[bl]{thlc}{thd}
\Ln{th17d}{thd} \Ln[bl]{th17d}{th17ir}
\draw[rd] (nrtlr) to[out=75,in=-110] (tlr);
\Ln{nrtlr}{rtlr}
\draw[gr] (nrtlr) .. controls (5840,-1200) and (5760,-900) .. (nrst);
\draw[gr] (nrtlr) .. controls (5820,-1000) and (6000,-780) .. (nrisp);
% ---- row 1730
\Ln{th17lc}{thlc} \Ln[bl]{th17lc}{th17d}
\end{pgfonlayer}
\end{tikzpicture}
\end{document}
